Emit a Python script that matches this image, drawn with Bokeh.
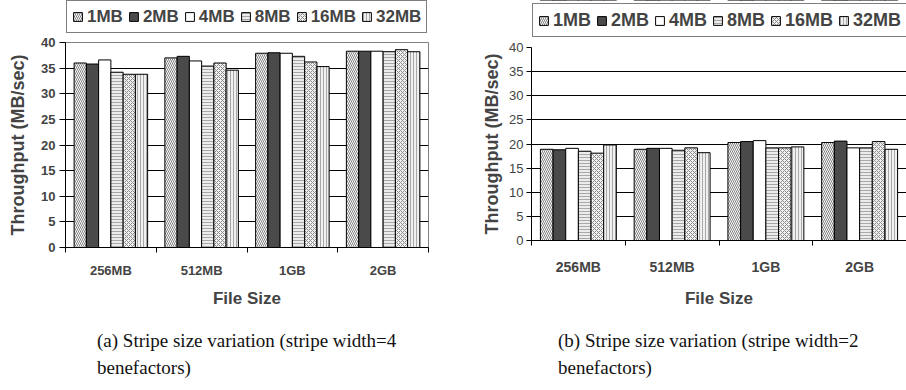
import numpy as np
from bokeh.plotting import figure
from bokeh.models import Range1d, FixedTicker, Legend, LegendItem, Div, ColumnDataSource
from bokeh.layouts import row, column
from bokeh.embed import file_html
from bokeh.resources import INLINE

file_sizes = ["256MB", "512MB", "1GB", "2GB"]
stripe_sizes = ["1MB", "2MB", "4MB", "8MB", "16MB", "32MB"]
y_ticks = [0, 5, 10, 15, 20, 25, 30, 35, 40]

# (a) stripe width = 4 benefactors : throughput (MB/sec) per file size
a_1MB = [36.0, 37.0, 37.9, 38.3]
a_2MB = [35.8, 37.3, 38.0, 38.3]
a_4MB = [36.6, 36.4, 37.9, 38.3]
a_8MB = [34.2, 35.4, 37.3, 38.2]
a_16MB = [33.8, 36.0, 36.2, 38.6]
a_32MB = [33.8, 34.6, 35.3, 38.2]

# (b) stripe width = 2 benefactors
b_1MB = [18.9, 18.9, 20.3, 20.3]
b_2MB = [18.8, 19.1, 20.5, 20.6]
b_4MB = [19.1, 19.1, 20.7, 19.2]
b_8MB = [18.5, 18.7, 19.2, 19.2]
b_16MB = [18.1, 19.2, 19.2, 20.5]
b_32MB = [19.8, 18.2, 19.4, 18.9]

series_a = [a_1MB, a_2MB, a_4MB, a_8MB, a_16MB, a_32MB]
series_b = [b_1MB, b_2MB, b_4MB, b_8MB, b_16MB, b_32MB]

caption_a = "(a) Stripe size variation (stripe width=4<br>benefactors)"
caption_b = "(b) Stripe size variation (stripe width=2<br>benefactors)"

FONT = "Liberation Sans"
BAR_W = 0.135

bar_styles = [
    dict(fill_color="white", hatch_pattern="\\", hatch_color="#808080", hatch_scale=4, hatch_weight=1),
    dict(fill_color="#4a4a4a"),
    dict(fill_color="white"),
    dict(fill_color="#ececec", hatch_pattern="-", hatch_color="#a8a8a8", hatch_scale=3, hatch_weight=1),
    dict(fill_color="#f2f2f2", hatch_pattern="x", hatch_color="#8c8c8c", hatch_scale=4, hatch_weight=1),
    dict(fill_color="#f0f0f0", hatch_pattern="|", hatch_color="#a8a8a8", hatch_scale=3, hatch_weight=1),
]


def make_sources(series):
    centers = np.arange(len(file_sizes)) + 0.5
    n = len(stripe_sizes)
    return [ColumnDataSource(dict(x=centers + (j - (n - 1) / 2) * BAR_W, top=vals))
            for j, vals in enumerate(series)]


def make_legend_fig(sources, width, height, font_size, label_h, pad, spacing, loc):
    # legend strip above a chart; its bars fall outside the visible y-range
    lf = figure(width=width, height=height, output_backend="svg", toolbar_location=None,
                x_axis_location=None, y_axis_location=None, min_border=0,
                x_range=Range1d(0, len(file_sizes)), y_range=Range1d(-2, -1))
    lf.outline_line_color = None
    lf.grid.visible = False
    lf.background_fill_color = "white"
    lf.border_fill_color = "white"
    items = []
    for name, src, st in zip(stripe_sizes, sources, bar_styles):
        r = lf.vbar(x="x", top="top", width=BAR_W, source=src, line_color="black",
                    line_width=1, **st)
        items.append(LegendItem(label=name, renderers=[r]))
    legend = Legend(items=items, orientation="horizontal", location=loc,
                    border_line_color="black", border_line_width=1,
                    background_fill_color="white", background_fill_alpha=1.0,
                    label_text_font=FONT, label_text_font_style="bold",
                    label_text_font_size=font_size, glyph_width=11, glyph_height=11,
                    label_standoff=4, spacing=spacing, padding=pad,
                    margin=0, label_height=label_h)
    lf.add_layout(legend)
    return lf


def make_chart(sources, fw, fh, mb_left, mb_right, mb_top, mb_bottom,
               ytick_bold, ytick_size, xtick_size, x_standoff, x_title_standoff,
               y_tick_out, y_standoff, y_title_standoff, outline, grid_ticks):
    p = figure(frame_width=fw, frame_height=fh, output_backend="svg", toolbar_location=None,
               x_range=Range1d(0, len(file_sizes)), y_range=Range1d(y_ticks[0], y_ticks[-1]),
               min_border_left=mb_left, min_border_right=mb_right,
               min_border_top=mb_top, min_border_bottom=mb_bottom)
    p.background_fill_color = "white"
    p.border_fill_color = "white"
    p.outline_line_color = outline

    for src, st in zip(sources, bar_styles):
        p.vbar(x="x", top="top", width=BAR_W, source=src, line_color="black",
               line_width=1, **st)

    centers = np.arange(len(file_sizes)) + 0.5
    # x axis: labels at group centres, tick marks at group boundaries
    xa = p.xaxis[0]
    xa.ticker = FixedTicker(ticks=list(centers), minor_ticks=list(range(len(file_sizes) + 1)))
    xa.major_label_overrides = {float(c): s for c, s in zip(centers, file_sizes)}
    xa.major_tick_line_color = None
    xa.major_tick_in = 0
    xa.major_tick_out = 0
    xa.minor_tick_line_color = "black"
    xa.minor_tick_in = 0
    xa.minor_tick_out = 5
    xa.axis_line_color = "black"
    xa.major_label_text_font = FONT
    xa.major_label_text_font_style = "bold"
    xa.major_label_text_font_size = xtick_size
    xa.major_label_standoff = x_standoff
    xa.axis_label = "File Size"
    xa.axis_label_text_font = FONT
    xa.axis_label_text_font_style = "bold"
    xa.axis_label_text_font_size = "17px"
    xa.axis_label_standoff = x_title_standoff
    p.xgrid.visible = False

    ya = p.yaxis[0]
    ya.ticker = FixedTicker(ticks=y_ticks, minor_ticks=[])
    ya.major_tick_in = 0
    ya.major_tick_out = y_tick_out
    ya.major_tick_line_color = "black"
    ya.axis_line_color = "black"
    ya.major_label_text_font = FONT
    ya.major_label_text_font_style = "bold" if ytick_bold else "normal"
    ya.major_label_text_font_size = ytick_size
    ya.major_label_standoff = y_standoff
    ya.axis_label = "Throughput (MB/sec)"
    ya.axis_label_text_font = FONT
    ya.axis_label_text_font_style = "bold"
    ya.axis_label_text_font_size = "18px"
    ya.axis_label_standoff = y_title_standoff
    p.ygrid.ticker = FixedTicker(ticks=grid_ticks, minor_ticks=[])
    p.ygrid.grid_line_color = "black"
    p.ygrid.grid_line_width = 1
    return p


src_a = make_sources(series_a)
src_b = make_sources(series_b)

# left column (0..460), right column (460..906)
p1 = make_chart(src_a, 363, 205, 65, 32, 8, 70,
                True, "13px", "13px", 10, 8, 6, 4, 10, "#808080", y_ticks[1:-1])
lg1 = make_legend_fig(src_a, 460, 34, "17px", 21, 5, 5, (1, 1))
p2 = make_chart(src_b, 375, 193, 71, 0, 9, 77,
                False, "13px", "14px", 13, 11, 5, 3, 4, None, y_ticks[1:])
lg2 = make_legend_fig(src_b, 446, 38, "18px", 22, 5, 5, (1, 1))

cap_style = ("font-family:'Liberation Serif',serif; font-size:19px; line-height:27px;"
             " white-space:nowrap; color:#111;")
d1 = Div(text=f'<div style="{cap_style} margin-left:97px; margin-top:10px;">{caption_a}</div>',
         width=460, height=70, margin=(0, 0, 0, 0))
d2 = Div(text=f'<div style="{cap_style} margin-left:98px; margin-top:10px;">{caption_b}</div>',
         width=446, height=70, margin=(0, 0, 0, 0))

layout = row(column(lg1, p1, d1, spacing=0), column(lg2, p2, d2, spacing=0), spacing=0)

open("out.html", "w").write(file_html(layout, INLINE))
